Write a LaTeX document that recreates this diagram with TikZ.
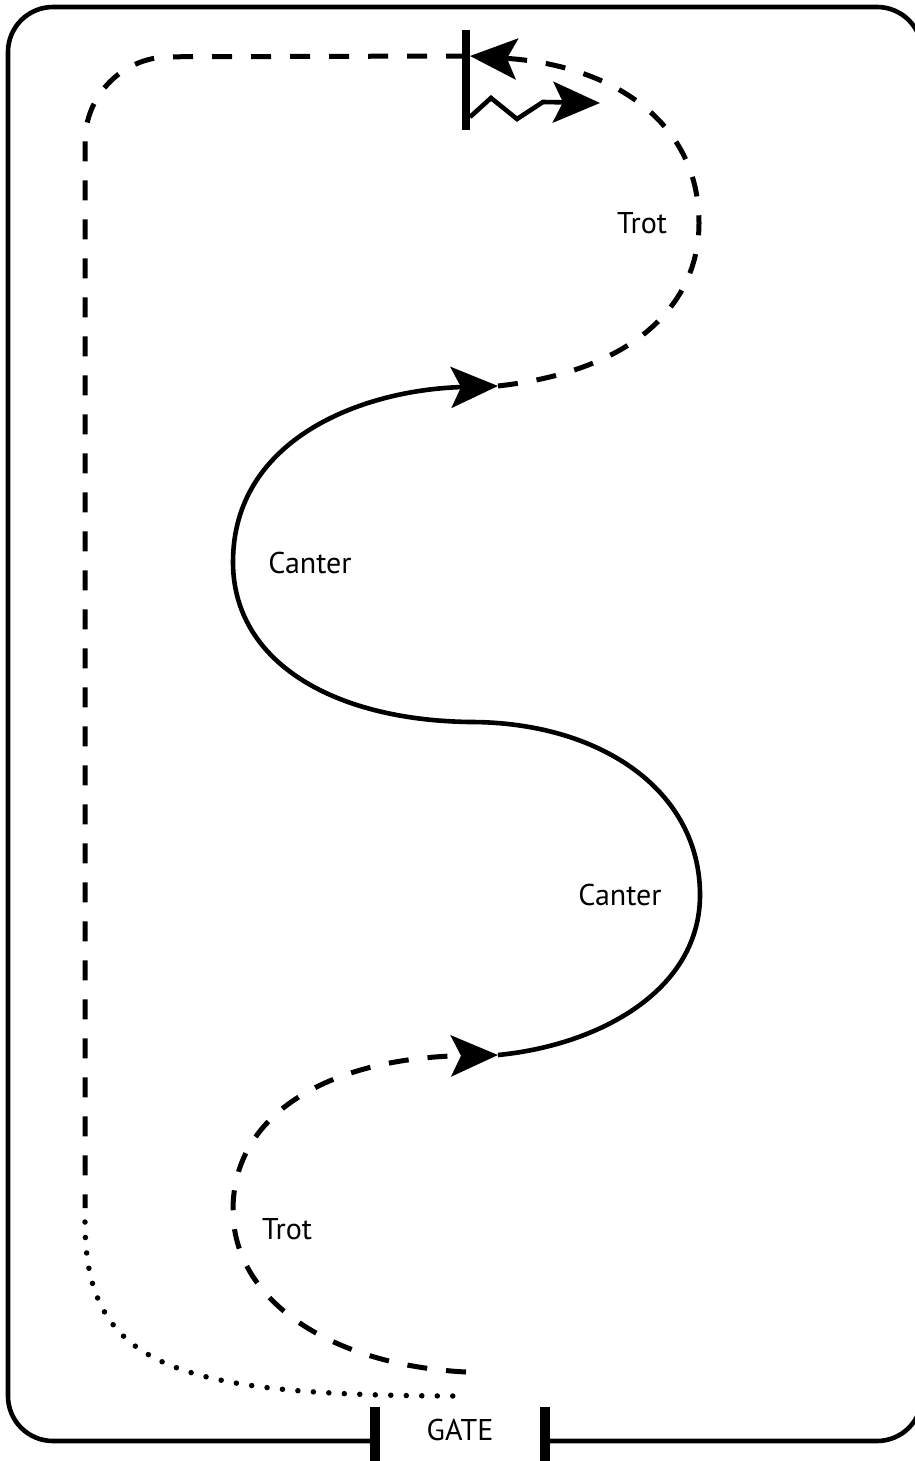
\documentclass[tikz,border=0pt]{standalone}
\usepackage{fontspec}
\setmainfont{PT Sans}
\usepackage{tikz}
\usetikzlibrary{arrows.meta}

\begin{document}
\begin{tikzpicture}[
    x=1pt, y=-1pt,
    fence/.style={line width=4.6pt, rounded corners=45pt},
    post/.style={line width=10pt},
    trot/.style={line width=5pt, dash pattern=on 20pt off 19pt},
    canter/.style={line width=4.6pt},
    walk/.style={line width=5.5pt, line cap=round, dash pattern=on 0pt off 15.5pt},
    pole/.style={line width=8pt},
    tip/.style={-{Stealth[length=47pt, width=41pt, inset=10pt]}},
    lbl/.style={inner sep=0pt, font=\fontsize{30}{36}\selectfont}
  ]
    \useasboundingbox (0,0) rectangle (914,1461);

    % arena fence and gate
    \coordinate (gl) at (375,1441);
    \coordinate (gr) at (545,1441);
    \draw[fence] (gl) -- (8,1441) -- (8,7) -- (922,7) -- (922,1441) -- (gr);
    \draw[post] (375,1407) -- (375,1461);
    \draw[post] (545,1407) -- (545,1461);
    \node[lbl] (gate) at (460,1430) {GATE};

    % way points of the test
    \coordinate (enter) at (466,1372);
    \coordinate (trotlow) at (233,1210);
    \coordinate (canterstart) at (498,1055);
    \coordinate (canterright) at (700,895);
    \coordinate (change) at (470,722);
    \coordinate (canterleft) at (233,562);
    \coordinate (canterend) at (498,386);
    \coordinate (trothigh) at (699,223);
    \coordinate (flagtip) at (470,56);
    \coordinate (flagtop) at (466,30);
    \coordinate (flagbot) at (466,130);
    \coordinate (corner) at (85,57);
    \coordinate (trackend) at (85,1208);
    \coordinate (walkstart) at (85,1222);
    \coordinate (leave) at (467,1396);

    % trot in from the gate
    \draw[trot, tip] (enter) .. controls (330,1365) and (233,1300) .. (trotlow)
      .. controls (233,1110) and (335,1058) .. (canterstart);

    % canter serpentine
    \draw[canter, tip] (canterstart) .. controls (600,1045) and (700,990) .. (canterright)
      .. controls (700,790) and (600,722) .. (change)
      .. controls (330,720) and (233,660) .. (canterleft)
      .. controls (233,440) and (360,390) .. (canterend);

    % trot up to the flag
    \draw[trot, tip] (canterend) .. controls (640,370) and (699,300) .. (trothigh)
      .. controls (699,120) and (610,65) .. (flagtip);

    % back round the track and out
    \draw[trot, rounded corners=85pt] (flagtop |- flagtip) -- (corner) -- (trackend);
    \draw[walk] (walkstart) .. controls (85,1370) and (180,1396) .. (leave);

    % flag
    \draw[pole] (flagtop) -- (flagbot);
    \draw[canter, tip] (470,117) -- (491,98) -- (517,119) -- (543,102) -- (600,103);

    \node[lbl] (trot1) at (642,223) {Trot};
    \node[lbl] (canter1) at (310,563) {Canter};
    \node[lbl] (canter2) at (620,895) {Canter};
    \node[lbl] (trot2) at (287,1229) {Trot};
  \end{tikzpicture}
\end{document}
